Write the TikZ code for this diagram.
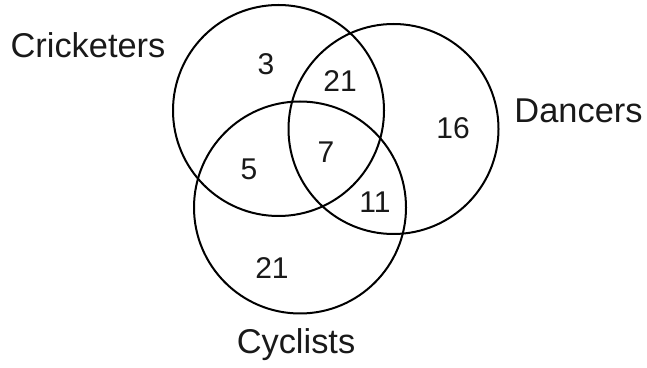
\documentclass[tikz,border=0pt]{standalone}
\usepackage{fontspec}
\setmainfont{Liberation Sans}
\begin{document}
\begin{tikzpicture}[x=0.5pt, y=-0.5pt, line width=1pt,
    num/.style={anchor=base, inner sep=0pt, font=\fontsize{15}{16}\selectfont, color=black!90},
    setlabel/.style={anchor=base, inner sep=0pt, font=\fontsize{17.2}{18}\selectfont, color=black!90}]
      \useasboundingbox (0,0) rectangle (647,368);
      \coordinate (cricket) at (278.5,110.5);
      \coordinate (dance)   at (393.5,129);
      \coordinate (cycle)   at (300,207.5);
      \draw (cricket) circle[radius=105.5];
      \draw (dance)   circle[radius=105];
      \draw (cycle)   circle[radius=106];

      \node[setlabel] (lcricket) at (88,58)   {Cricketers};
      \node[setlabel] (ldance)   at (578.5,123) {Dancers};
      \node[setlabel] (lcycle)   at (296,353) {Cyclists};

      \node[num] (onlycricket) at (266,75)  {3};
      \node[num] (cricdance)   at (340,92)  {21};
      \node[num] (onlydance)   at (453,139) {16};
      \node[num] (all)         at (326,163) {7};
      \node[num] (criccycle)   at (249,180) {5};
      \node[num] (dancecycle)  at (375,213) {11};
      \node[num] (onlycycle)   at (272,279) {21};
    \end{tikzpicture}
\end{document}
